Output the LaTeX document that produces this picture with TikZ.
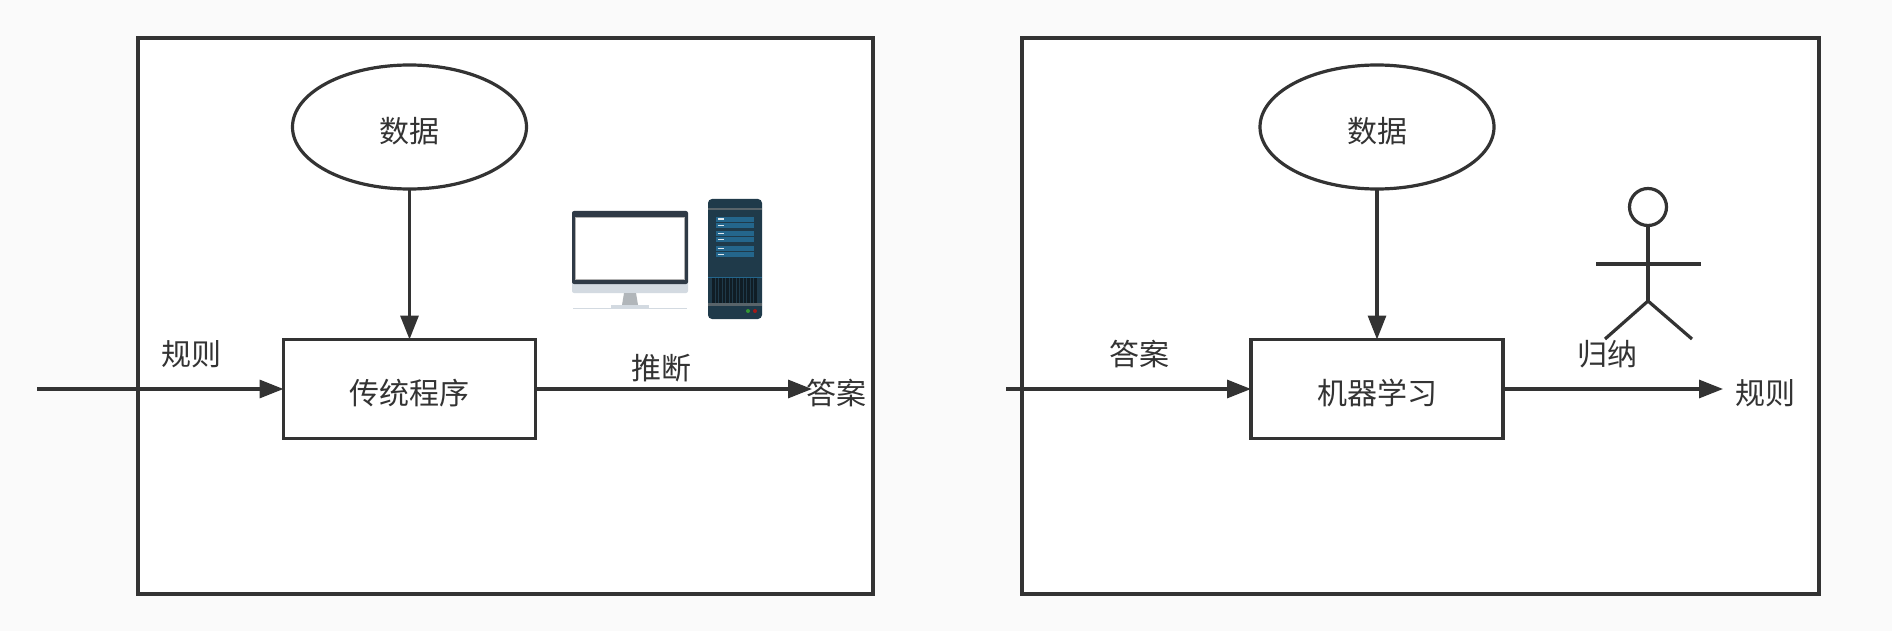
\documentclass[tikz,border=0pt]{standalone}
\usepackage{fontspec}
\setmainfont{Noto Sans CJK SC}
\usepackage{color}
\usetikzlibrary{positioning}
\usetikzlibrary{arrows.meta,shapes.geometric}

\definecolor{ink}{HTML}{333333}
\definecolor{paper}{HTML}{FAFAFA}
\definecolor{towerbody}{HTML}{1F3A4A}
\definecolor{towerpanel}{HTML}{24668C}
\definecolor{monitorframe}{HTML}{2F3A46}
\definecolor{monitorbase}{HTML}{D3DAE1}

\tikzset{
  frame/.style={draw=ink,line width=3.2pt,fill=white,rectangle,minimum width=#1,minimum height=556pt},
  datum/.style={draw=ink,line width=3.2pt,outer sep=0pt,ellipse,minimum width=234pt,minimum height=124pt,text=ink,text height=35pt,text depth=4pt,font=\fontsize{30}{30}\selectfont},
  prog/.style={draw=ink,line width=3.2pt,outer sep=0pt,rectangle,minimum width=252pt,minimum height=99pt,text=ink,text height=35pt,text depth=4pt,font=\fontsize{30}{30}\selectfont},
  word/.style={text=ink,inner sep=0pt,font=\fontsize{30}{30}\selectfont},
  link/.style={draw=ink,line width=3.2pt,-{Triangle[length=24pt,width=18pt]}},
  stick/.style={draw=ink,line width=3.2pt}
}

\begin{document}
\begin{tikzpicture}[x=1pt,y=-1pt,node distance=262pt]
  \useasboundingbox (0,0) rectangle (1892,631);
  \fill[paper] (0,0) rectangle (1892,631);

  \node[frame=735pt] (FrameA) at (505.5,316) {};
  \node[frame=797pt] (FrameB) at (1420.5,316) {};

  \node[datum] (DataA)                       at (409.5,127) {数据};
  \node[prog]  (Program) [below of=DataA]                   {传统程序};
  \node[datum] (DataB)                       at (1377,127)  {数据};
  \node[prog]  (Learning) [below of=DataB]                  {机器学习};

  \coordinate (RuleIn)    at (37,389);
  \coordinate (AnswerOut) at (812,389);
  \coordinate (AnswerIn)  at (1006,389);
  \coordinate (RuleOut)   at (1723,389);

  \node[word] (RuleA)   at (191,354)   {规则};
  \node[word] (Infer)   at (661.5,368) {推断};
  \node[word] (AnswerA) at (836.5,393) {答案};
  \node[word] (AnswerB) at (1139,354)  {答案};
  \node[word] (Induce)  at (1607,354)  {归纳};
  \node[word] (RuleB)   at (1765,393)  {规则};

  \path
        (DataA) edge[link] (Program)
       (RuleIn) edge[link] (Program)
      (Program) edge[link] (AnswerOut)
        (DataB) edge[link] (Learning)
     (AnswerIn) edge[link] (Learning)
     (Learning) edge[link] (RuleOut);

  % monitor
  \fill[monitorbase,rounded corners=2pt] (572,280) rectangle (688,293);
  \fill[monitorframe,rounded corners=2pt] (572,211) rectangle (688,284);
  \fill[gray!60] (575,217) rectangle (685,280);
  \fill[white] (576,218) rectangle (684,279);
  \fill[gray!40!monitorbase] (624,293) -- (636,293) -- (638,305) -- (622,305) -- cycle;
  \fill[monitorbase] (611,305) rectangle (649,308);
  \draw[monitorbase,line width=1pt] (573,308) -- (687,308);

  % tower
  \fill[towerbody,rounded corners=4pt] (708,199) rectangle (762,319);
  \fill[gray!60!towerbody] (708,208) rectangle (762,210);
  \foreach \panel in {217,223,231,237,246,252}
    \fill[towerpanel] (716,\panel) rectangle (754,\panel+5);
  \foreach \panel in {217,223,231,237,246,252}
    \fill[white!85!towerpanel] (718,\panel+1.5) rectangle (724,\panel+3);
  \fill[towerpanel] (708,276.5) rectangle (762,277.5);
  \fill[black!50!towerbody] (712,278) rectangle (758,303);
  \foreach \bar in {715,718.5,...,757}
    \draw[towerbody,line width=.8pt] (\bar,278) -- (\bar,303);
  \fill[gray!60!towerbody] (708,303) rectangle (762,306);
  \fill[green!50!black!80] (748,311) circle (2pt);
  \fill[red!60!black!90] (755,311) circle (2pt);

  % actor
  \node[draw=ink,line width=3.2pt,circle,minimum size=37pt,inner sep=0pt,outer sep=0pt,fill=white] (Head) at (1648,207) {};
  \coordinate (Hip)    at (1648,301);
  \coordinate (ArmL)   at (1596,264);
  \coordinate (ArmR)   at (1701,264);
  \coordinate (FootL)  at (1605,339);
  \coordinate (FootR)  at (1692,339);
  \draw[stick] (Head) -- (Hip);
  \draw[stick] (ArmL) -- (ArmR);
  \draw[stick] (FootL) -- (Hip) -- (FootR);
\end{tikzpicture}
\end{document}
